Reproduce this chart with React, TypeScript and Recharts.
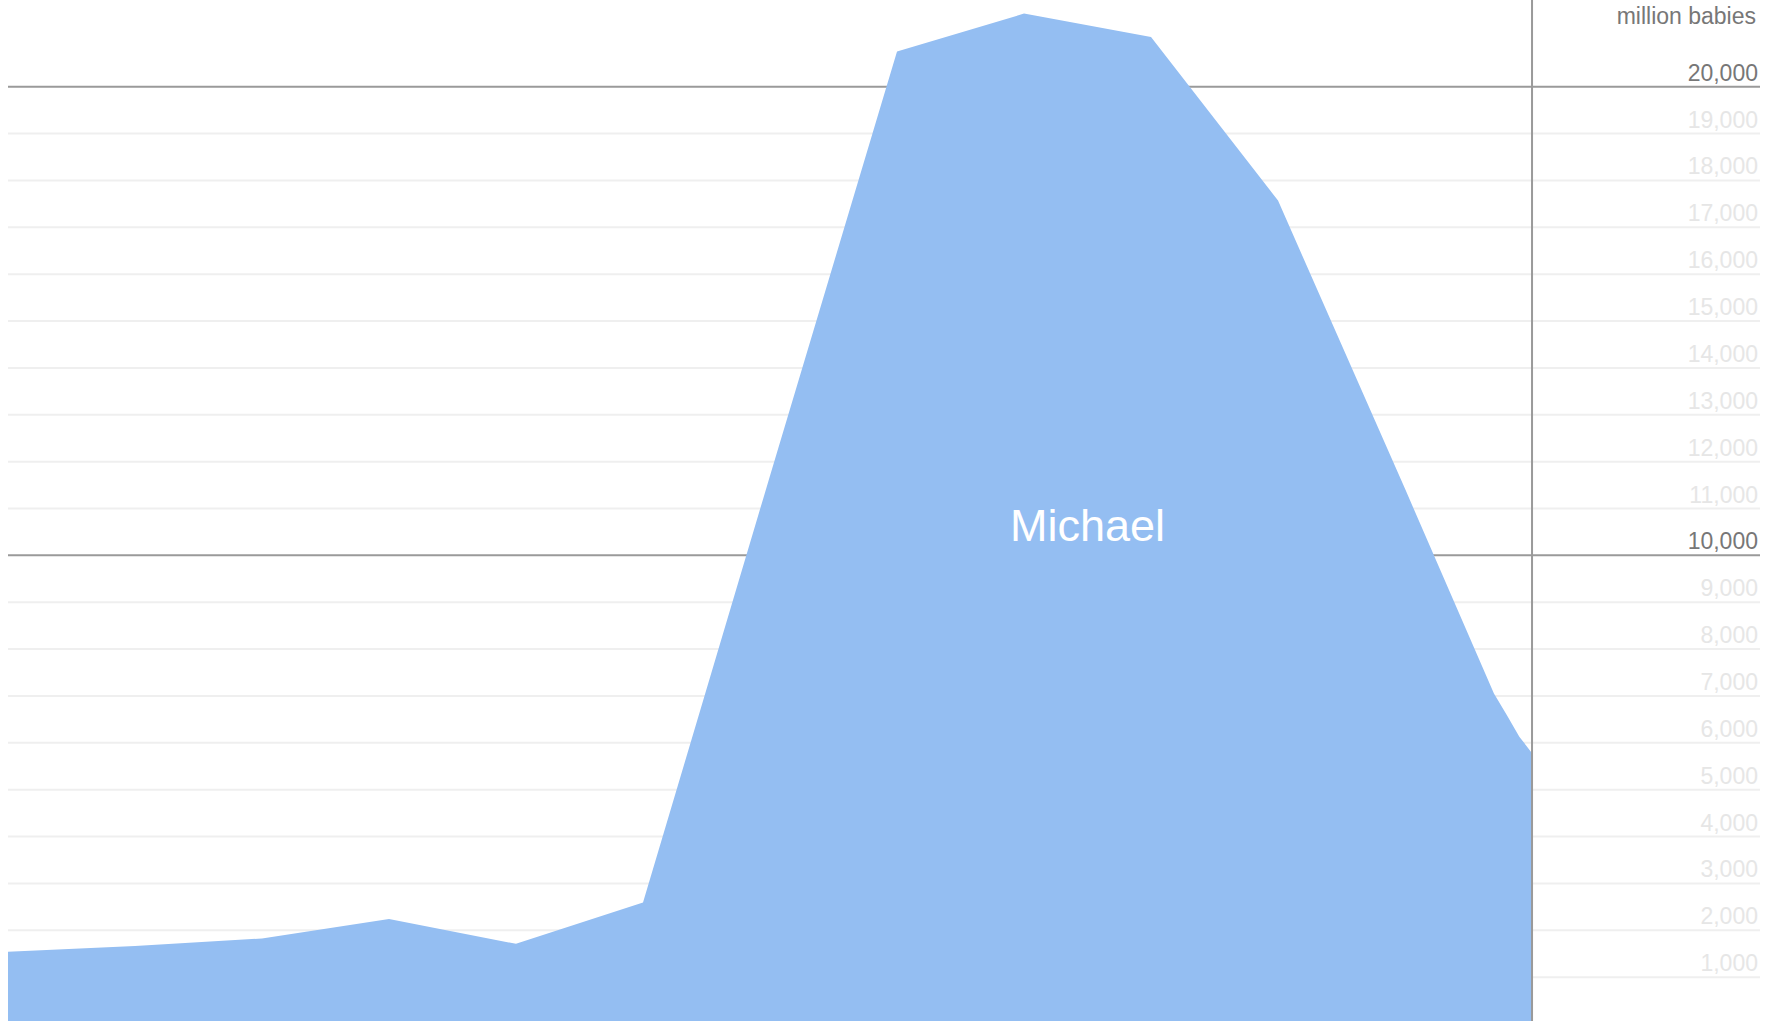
import {
  AreaChart,
  Area,
  XAxis,
  YAxis,
  CartesianGrid,
  ReferenceLine,
  ReferenceDot,
  Label,
} from "recharts";

// values, babies per decade
const years = [1880, 1890, 1900, 1910, 1920, 1930, 1940, 1950, 1960, 1970, 1980, 1990, 1997, 1998, 1999, 2000];
const michael = [1540, 1665, 1825, 2240, 1710, 2590, 11700, 20750, 21560, 21060, 17570, 11420, 7050, 6600, 6130, 5780];

const yTicks = [
  1000, 2000, 3000, 4000, 5000, 6000, 7000, 8000, 9000, 10000,
  11000, 12000, 13000, 14000, 15000, 16000, 17000, 18000, 19000, 20000,
];
const majorTicks = [10000, 20000];
const unitLabel = "million babies";
const seriesName = "Michael";
const labelYear = 1965;
const labelValue = 10650;
const lastYear = 2000;

const data = years.map((year, i) => ({ year, michael: michael[i] }));

const font = '"Liberation Sans", Arial, sans-serif';

function YTick(props: any) {
  const { y, payload } = props;
  const major = majorTicks.includes(payload.value);
  return (
    <g>
      <text
        x={1758}
        y={y - 6}
        textAnchor="end"
        fontSize={23}
        fontFamily={font}
        fill={major ? "#777" : "#e6e6e6"}
      >
        {payload.value.toLocaleString("en-US")}
      </text>
      {payload.value === 20000 && (
        <text
          x={1756}
          y={y - 63}
          textAnchor="end"
          fontSize={23}
          fontFamily={font}
          fill="#777"
        >
          {unitLabel}
        </text>
      )}
    </g>
  );
}

// grid line: the 10,000s are drawn darker, all of them stay under the area
function GridLine(props: any) {
  const { x1, y1, x2, y2, index } = props;
  const major = majorTicks.includes(yTicks[index]);
  return (
    <line
      x1={x1}
      y1={y1}
      x2={x2}
      y2={y2}
      stroke={major ? "#9a9a9a" : "#efefef"}
      strokeWidth={2}
    />
  );
}

export default function App() {
  return (
    <div
      style={{
        position: "absolute",
        left: 0,
        top: 0,
        width: 1777,
        height: 1021,
        overflow: "hidden",
        background: "#fff",
      }}
    >
      <div style={{ position: "absolute", left: 0, top: -20 }}>
        <AreaChart
          width={1777}
          height={1054}
          data={data}
          margin={{ top: 13, right: 0, bottom: 10, left: 8 }}
        >
          <CartesianGrid vertical={false} horizontal={GridLine} />
          <XAxis type="number" dataKey="year" domain={[1880, 2017.95]} hide />
          <YAxis
            orientation="right"
            width={17}
            domain={[0, 22000]}
            ticks={yTicks}
            interval={0}
            axisLine={false}
            tickLine={false}
            tick={<YTick />}
          />
          <Area
            type="linear"
            dataKey="michael"
            stroke="none"
            fill="#94bef2"
            fillOpacity={1}
            isAnimationActive={false}
          />
          <ReferenceLine x={lastYear} stroke="#9a9a9a" strokeWidth={2} />
          <ReferenceDot x={labelYear} y={labelValue} r={0} stroke="none" fill="none">
            <Label
              value={seriesName}
              position="center"
              fill="#ffffff"
              fontSize={45}
              fontFamily={font}
            />
          </ReferenceDot>
        </AreaChart>
      </div>
    </div>
  );
}
